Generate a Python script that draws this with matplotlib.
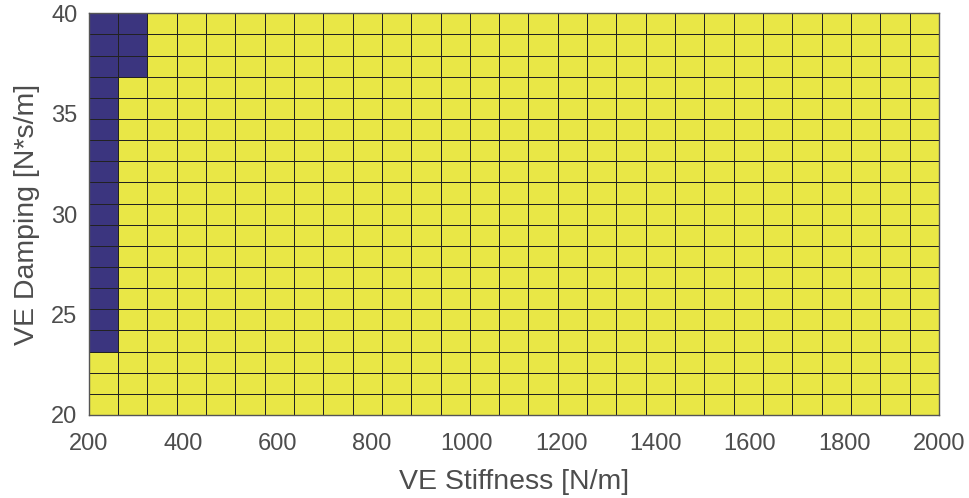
import numpy as np
import matplotlib
matplotlib.use("Agg")
import matplotlib.pyplot as plt
from matplotlib.colors import ListedColormap

# grid nodes (surface vertices)
stiffness = np.linspace(200, 2000, 30)
damping = np.linspace(20, 40, 20)

# cell values, bottom row first: 1 = stable (yellow), 0 = unstable (blue)
cells = [
    "11111111111111111111111111111",
    "11111111111111111111111111111",
    "11111111111111111111111111111",
    "01111111111111111111111111111",
    "01111111111111111111111111111",
    "01111111111111111111111111111",
    "01111111111111111111111111111",
    "01111111111111111111111111111",
    "01111111111111111111111111111",
    "01111111111111111111111111111",
    "01111111111111111111111111111",
    "01111111111111111111111111111",
    "01111111111111111111111111111",
    "01111111111111111111111111111",
    "01111111111111111111111111111",
    "01111111111111111111111111111",
    "00111111111111111111111111111",
    "00111111111111111111111111111",
    "00111111111111111111111111111",
]
z = np.array([[int(c) for c in row] for row in cells])

x_ticks = [200, 400, 600, 800, 1000, 1200, 1400, 1600, 1800, 2000]
y_ticks = [20, 25, 30, 35, 40]

plt.rcParams['font.family'] = ['Liberation Sans', 'DejaVu Sans']

fig = plt.figure(figsize=(9.69, 4.98), dpi=100)
ax = fig.add_axes([0.0915, 0.1667, 0.8775, 0.8066])

cmap = ListedColormap(['#3b357f', '#e9e746'])
ax.pcolormesh(stiffness, damping, z, cmap=cmap, vmin=0, vmax=1,
              edgecolors='#222222', linewidth=0.65)

ax.set_xlim(200, 2000)
ax.set_ylim(20, 40)
ax.set_xticks(x_ticks)
ax.set_yticks(y_ticks)
ax.tick_params(direction='in', length=0, labelsize=17, colors='#4d4d4d')
ax.tick_params(axis='x', pad=13)
ax.tick_params(axis='y', pad=8)
for s in ax.spines.values():
    s.set_color('#555555')
    s.set_linewidth(1.0)

ax.set_xlabel('VE Stiffness [N/m]', fontsize=20.5, color='#4d4d4d', labelpad=10)
ax.set_ylabel('VE Damping [N*s/m]', fontsize=20.5, color='#4d4d4d', labelpad=8)

fig.savefig('out.png', dpi=100)
